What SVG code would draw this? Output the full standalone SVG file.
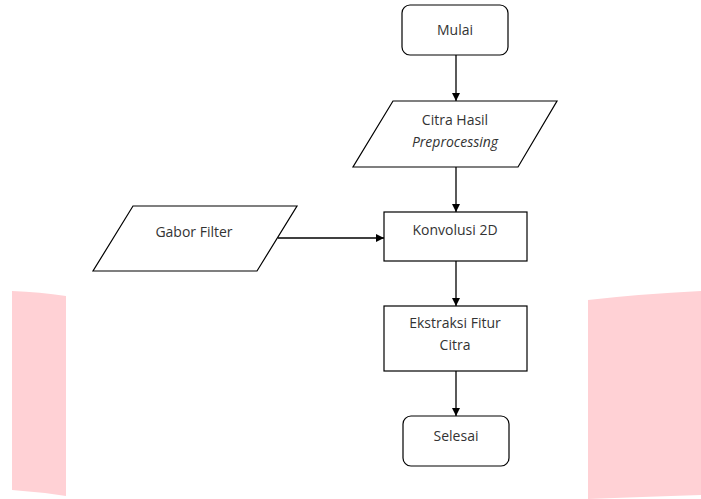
<svg xmlns="http://www.w3.org/2000/svg" width="701" height="499" viewBox="0 0 701 499">
<style>
.shape{fill:#fff;stroke:#000;stroke-width:1.2}
.conn{fill:none;stroke:#000;stroke-width:1.3}
.t{font-family:"Open Sans","Noto Sans",sans-serif;font-size:14px;fill:#333;text-anchor:middle}
.i{font-style:italic}
.wm{fill:#ffd1d5}
</style>
<defs>
<marker id="ah" viewBox="0 0 10 10" refX="10" refY="5" markerWidth="8" markerHeight="8" markerUnits="userSpaceOnUse" orient="auto">
<path d="M0,0 L10,5 L0,10 z" fill="#000"/>
</marker>
</defs>
<g id="watermark">
<path class="wm" d="M12,291 Q40,292 66,296 L66,496 Q40,492 12,490 z"/>
<path class="wm" d="M588,300 Q640,294 701,291 L701,495 Q640,497 588,499 z"/>
</g>
<g id="connectors">
<line class="conn" x1="456" y1="55" x2="456" y2="101" marker-end="url(#ah)"/>
<line class="conn" x1="456" y1="167" x2="456" y2="212" marker-end="url(#ah)"/>
<line class="conn" x1="278" y1="238" x2="384" y2="238" marker-end="url(#ah)"/>
<line class="conn" x1="456" y1="261" x2="456" y2="306" marker-end="url(#ah)"/>
<line class="conn" x1="456" y1="371" x2="456" y2="416" marker-end="url(#ah)"/>
</g>
<g id="mulai">
<rect class="shape" x="402" y="5" width="106" height="50" rx="8"/>
<text class="t" x="455" y="35">Mulai</text>
</g>
<g id="citra-hasil">
<polygon class="shape" points="393,101 557,101 518,167 353,167"/>
<text class="t" x="455" y="125">Citra Hasil</text>
<text class="t i" x="455" y="147">Preprocessing</text>
</g>
<g id="gabor-filter">
<polygon class="shape" points="133,206 297,206 257,271 93,271"/>
<text class="t" x="194" y="237">Gabor Filter</text>
</g>
<g id="konvolusi">
<rect class="shape" x="384" y="212" width="143" height="49"/>
<text class="t" x="455" y="235">Konvolusi 2D</text>
</g>
<g id="ekstraksi">
<rect class="shape" x="384" y="306" width="143" height="65"/>
<text class="t" x="455" y="328">Ekstraksi Fitur</text>
<text class="t" x="455" y="350">Citra</text>
</g>
<g id="selesai">
<rect class="shape" x="403" y="416" width="106" height="50" rx="8"/>
<text class="t" x="456" y="441">Selesai</text>
</g>
</svg>
